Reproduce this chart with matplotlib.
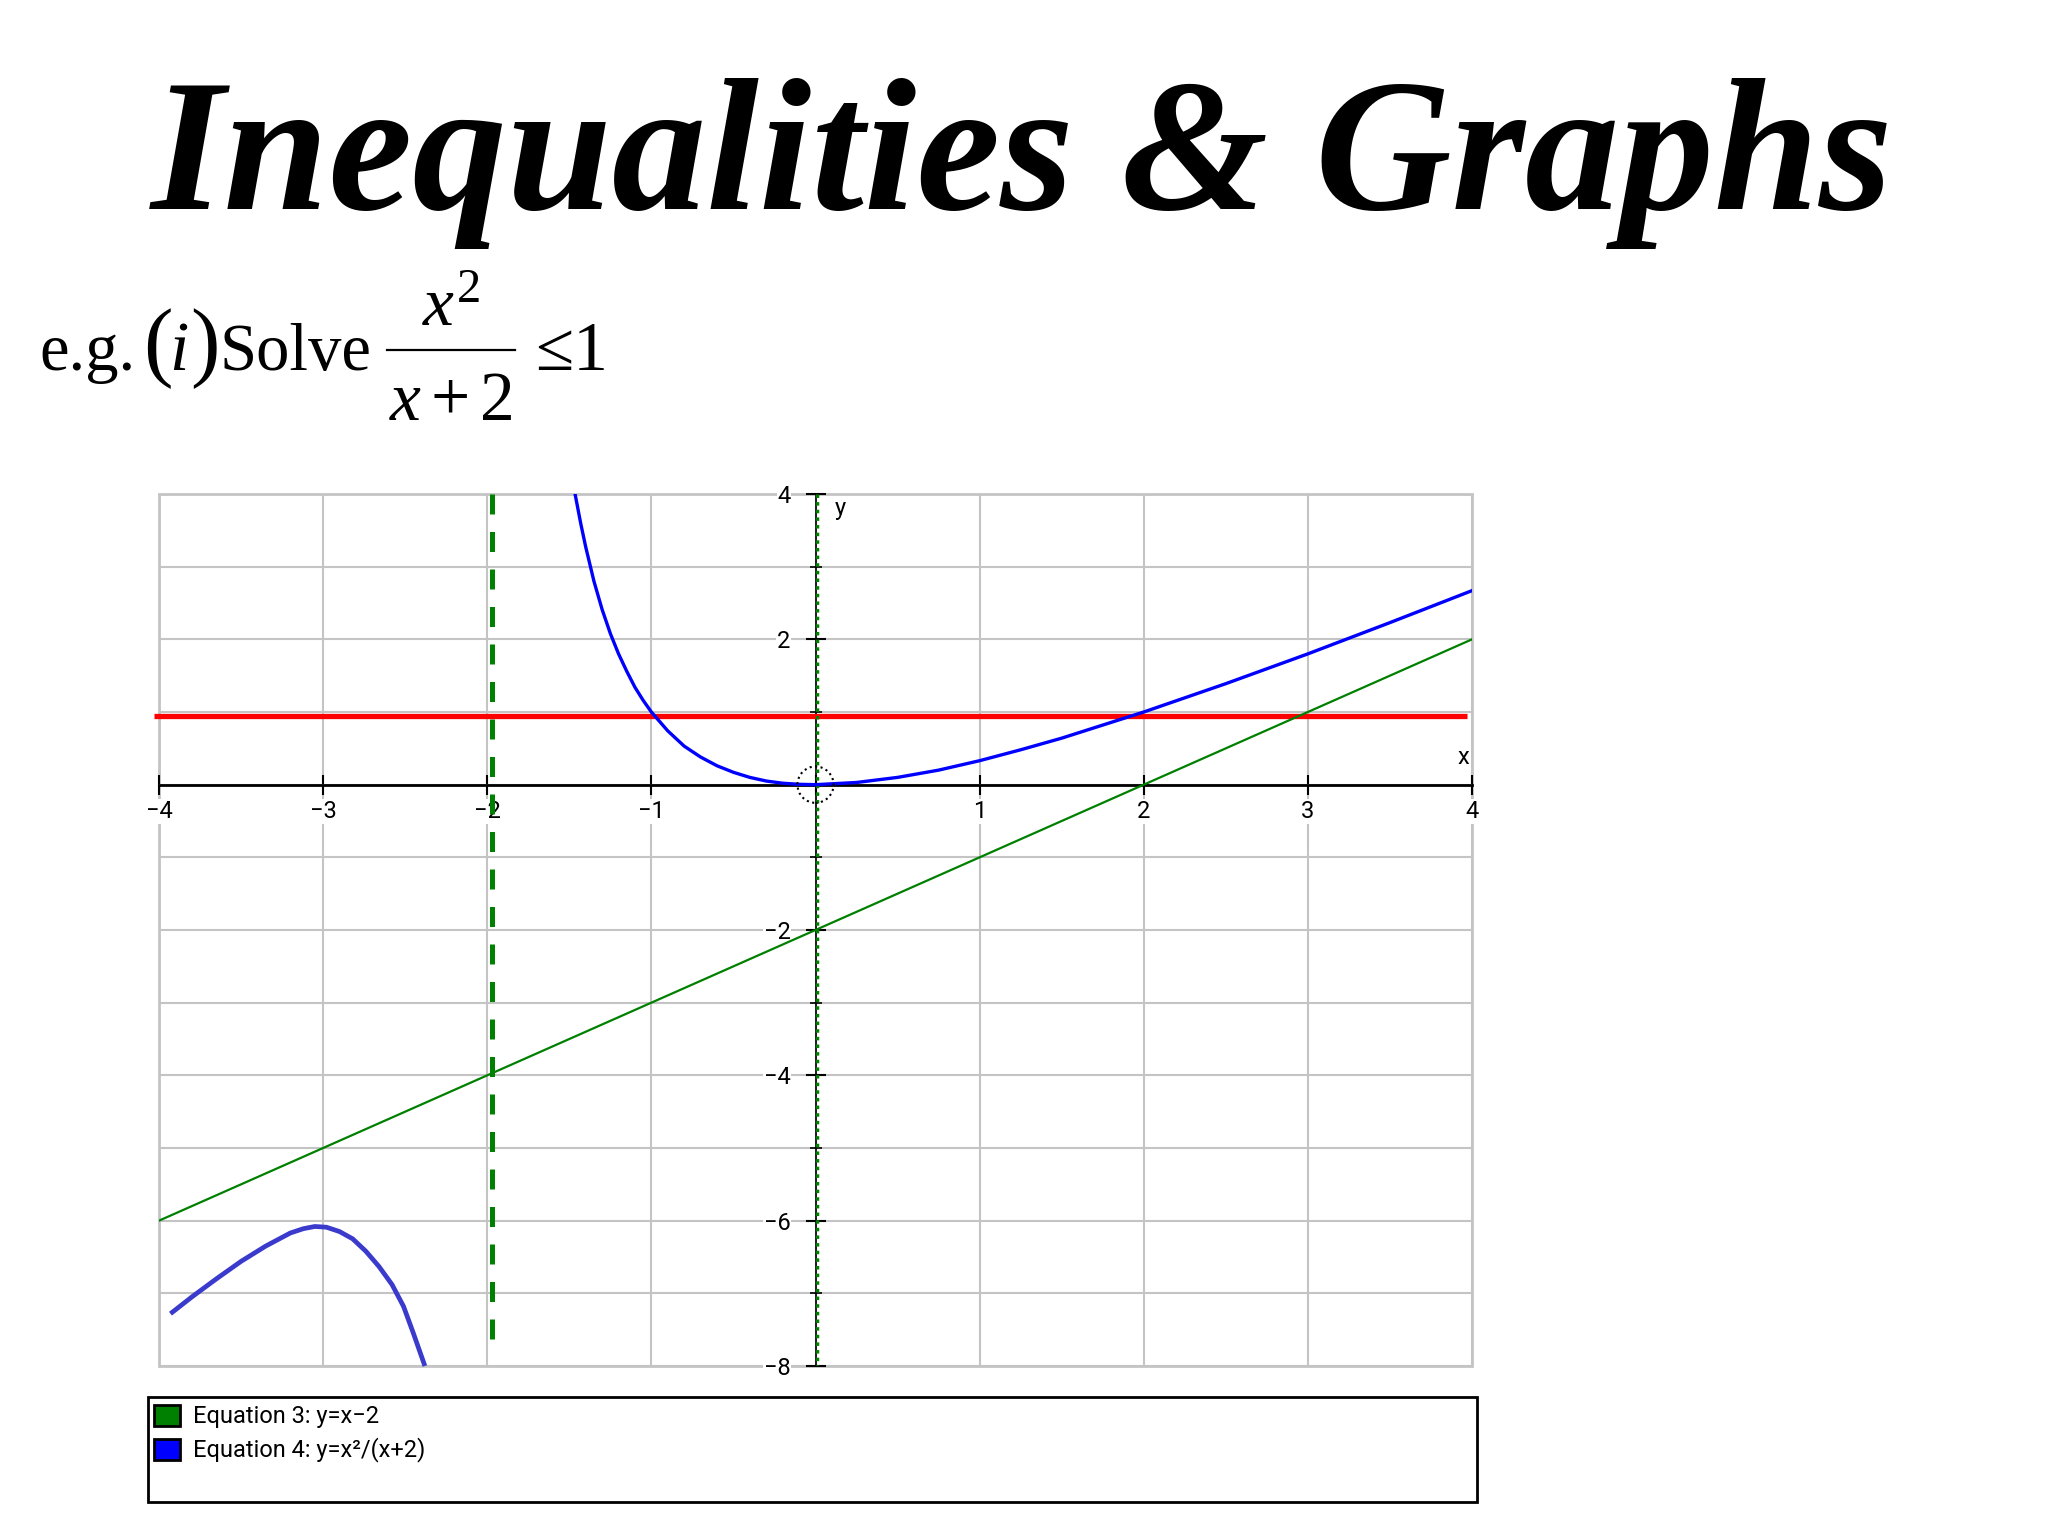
import matplotlib
matplotlib.use("Agg")
import matplotlib.pyplot as plt
from matplotlib.patches import Rectangle, Ellipse
from matplotlib.lines import Line2D

plt.rcParams['mathtext.fontset'] = 'custom'
plt.rcParams['mathtext.rm'] = 'Liberation Serif'
plt.rcParams['mathtext.it'] = 'Liberation Serif:italic'

# values
x_ticks = [-4, -3, -2, -1, 0, 1, 2, 3, 4]
x_labels = ['−4', '−3', '−2', '−1', '', '1', '2', '3', '4']
y_ticks = [4, 2, 0, -2, -4, -6, -8]
y_labels = ['4', '2', '', '−2', '−4', '−6', '−8']
y_minor = [3, 1, -1, -3, -5, -7]

# y = x - 2
line_x = [-4, 4]
line_y = [-6, 2]

# y = 1 (drawn a touch low in the picture)
red_x = [-4.03, 3.97]
red_y = [0.94, 0.94]

# asymptote x = -2 (drawn a touch right) and the dotted y-axis line
asym_x = [-1.97, -1.97]
asym_y = [4, -7.8]
yaxis_x = [0.01, 0.01]
yaxis_y = [4, -8]

# y = x^2/(x+2), right branch
curve_x = [-1.465, -1.43, -1.4, -1.35, -1.3, -1.25, -1.2, -1.15, -1.1, -1.05,
           -1.0, -0.9, -0.8, -0.7, -0.6, -0.5, -0.4, -0.3, -0.2, -0.1,
           0.0, 0.25, 0.5, 0.75, 1.0, 1.25, 1.5, 1.75, 2.0, 2.5, 3.0, 3.5, 4.0]
curve_y = [4.0, 3.59, 3.27, 2.8, 2.41, 2.08, 1.8, 1.56, 1.34, 1.16,
           1.0, 0.74, 0.53, 0.38, 0.26, 0.17, 0.10, 0.05, 0.02, 0.005,
           0.0, 0.03, 0.10, 0.20, 0.33, 0.48, 0.64, 0.82, 1.0, 1.39, 1.8, 2.23, 2.67]

# hand-drawn left branch
sketch_x = [-3.93, -3.8, -3.65, -3.5, -3.35, -3.2, -3.12, -3.05, -2.98, -2.9,
            -2.82, -2.74, -2.66, -2.58, -2.51, -2.45, -2.38]
sketch_y = [-7.28, -7.05, -6.80, -6.56, -6.35, -6.17, -6.11, -6.08, -6.09, -6.15,
            -6.25, -6.42, -6.63, -6.88, -7.18, -7.55, -8.0]

legend_labels = ['Equation 3: y=x−2', 'Equation 4: y=x²/(x+2)']
legend_colors = ['#008000', '#0000ff']

W, H = 2048, 1536


def fx(px):
    return px / W


def fy(py):
    return 1 - py / H


fig = plt.figure(figsize=(20.48, 15.36), dpi=100)
fig.patch.set_facecolor('white')

# title and the problem statement
fig.text(0.499, fy(209), 'Inequalities & Graphs', ha='center', va='baseline',
         fontsize=136, family='Liberation Serif', weight='bold', style='italic')

serif = 'Liberation Serif'
fig.text(fx(39), fy(370), 'e.g.', fontsize=48, family=serif, va='baseline')
fig.text(fx(143), fy(370), '(', fontsize=64, family=serif, va='baseline')
fig.text(fx(169), fy(370), 'i', fontsize=50, family=serif, style='italic', va='baseline')
fig.text(fx(190), fy(370), ')', fontsize=64, family=serif, va='baseline')
fig.text(fx(219), fy(370), 'Solve', fontsize=48, family=serif, va='baseline')
fig.text(fx(451), fy(326), r'$x^2$', fontsize=50, ha='center', va='baseline')
fig.add_artist(Line2D([fx(387), fx(515)], [fy(350), fy(350)], color='black',
                      lw=1.6, transform=fig.transFigure))
fig.text(fx(451), fy(420), r'$x+2$', fontsize=50, ha='center', va='baseline')
fig.text(fx(535), fy(370), '≤1', fontsize=50, family=serif, va='baseline')

# graph
ax = fig.add_axes([fx(159), fy(1366), (1472 - 159) / W, (1366 - 494) / H])
ax.set_xlim(-4, 4)
ax.set_ylim(-8, 4)

ax.set_xticks(x_ticks)
ax.set_xticklabels(x_labels)
ax.set_yticks(y_ticks)
ax.set_yticklabels(y_labels)
ax.set_yticks(y_minor, minor=True)
ax.grid(which='both', color='#c4c4c4', lw=1.5)

for s in ['top', 'right']:
    ax.spines[s].set_visible(False)
ax.spines['left'].set_position(('data', 0))
ax.spines['bottom'].set_position(('data', 0))
ax.spines['left'].set_linewidth(1.2)
ax.spines['bottom'].set_linewidth(2)
ax.add_patch(Rectangle((0, 0), 1, 1, transform=ax.transAxes, fill=False,
                       ec='#c4c4c4', lw=2, clip_on=False, zorder=0.5))

small = ['Roboto', 'DejaVu Sans']
ax.tick_params(axis='x', which='major', direction='inout', length=14, width=1.5,
               pad=4, labelsize=17)
ax.tick_params(axis='y', which='major', direction='inout', length=14, width=1.5,
               pad=11, labelsize=17)
ax.tick_params(axis='y', which='minor', direction='inout', length=8, width=1.2)
for lab in ax.get_xticklabels() + ax.get_yticklabels():
    lab.set_family(small)
    lab.set_bbox(dict(facecolor='white', edgecolor='none', pad=0.5))

ax.plot(red_x, red_y, color='#ff0000', lw=3.8, zorder=3, clip_on=False,
        solid_capstyle='butt')
ax.plot(asym_x, asym_y, color='#008000', lw=3.6, dashes=(4, 3.5), zorder=2.8)
ax.plot(yaxis_x, yaxis_y, color='#008000', lw=2.5, ls=(0, (1, 1.2)), zorder=3.2)
ax.plot(line_x, line_y, color='#008000', lw=1.6, zorder=4)
ax.plot(curve_x, curve_y, color='#0000ff', lw=2.4, zorder=5)
ax.plot(sketch_x, sketch_y, color='#3a3acc', lw=3.4, zorder=5,
        solid_capstyle='butt', clip_on=False)
ax.add_patch(Ellipse((0, 0), 0.22, 0.5, fill=False, ec='black', lw=1.5, ls=':',
                     zorder=6))

ax.text(0.12, 3.96, 'y', ha='left', va='top', fontsize=17, family=small)
ax.text(3.95, 0.38, 'x', ha='center', va='center', fontsize=17, family=small,
        bbox=dict(facecolor='white', edgecolor='none', pad=1), zorder=7)

# legend box
fig.add_artist(Rectangle((fx(148), fy(1502)), (1477 - 148) / W, (1502 - 1397) / H,
                         transform=fig.transFigure, fill=False, ec='black', lw=2))
for i, (lab, col) in enumerate(zip(legend_labels, legend_colors)):
    yc = 1416 + 34 * i
    fig.add_artist(Rectangle((fx(154), fy(yc + 10)), 26 / W, 21 / H,
                             transform=fig.transFigure, fc=col, ec='black', lw=2))
    fig.text(fx(193), fy(yc), lab, fontsize=17, family=small, va='center')

fig.savefig('out.png', dpi=100, facecolor='white')
